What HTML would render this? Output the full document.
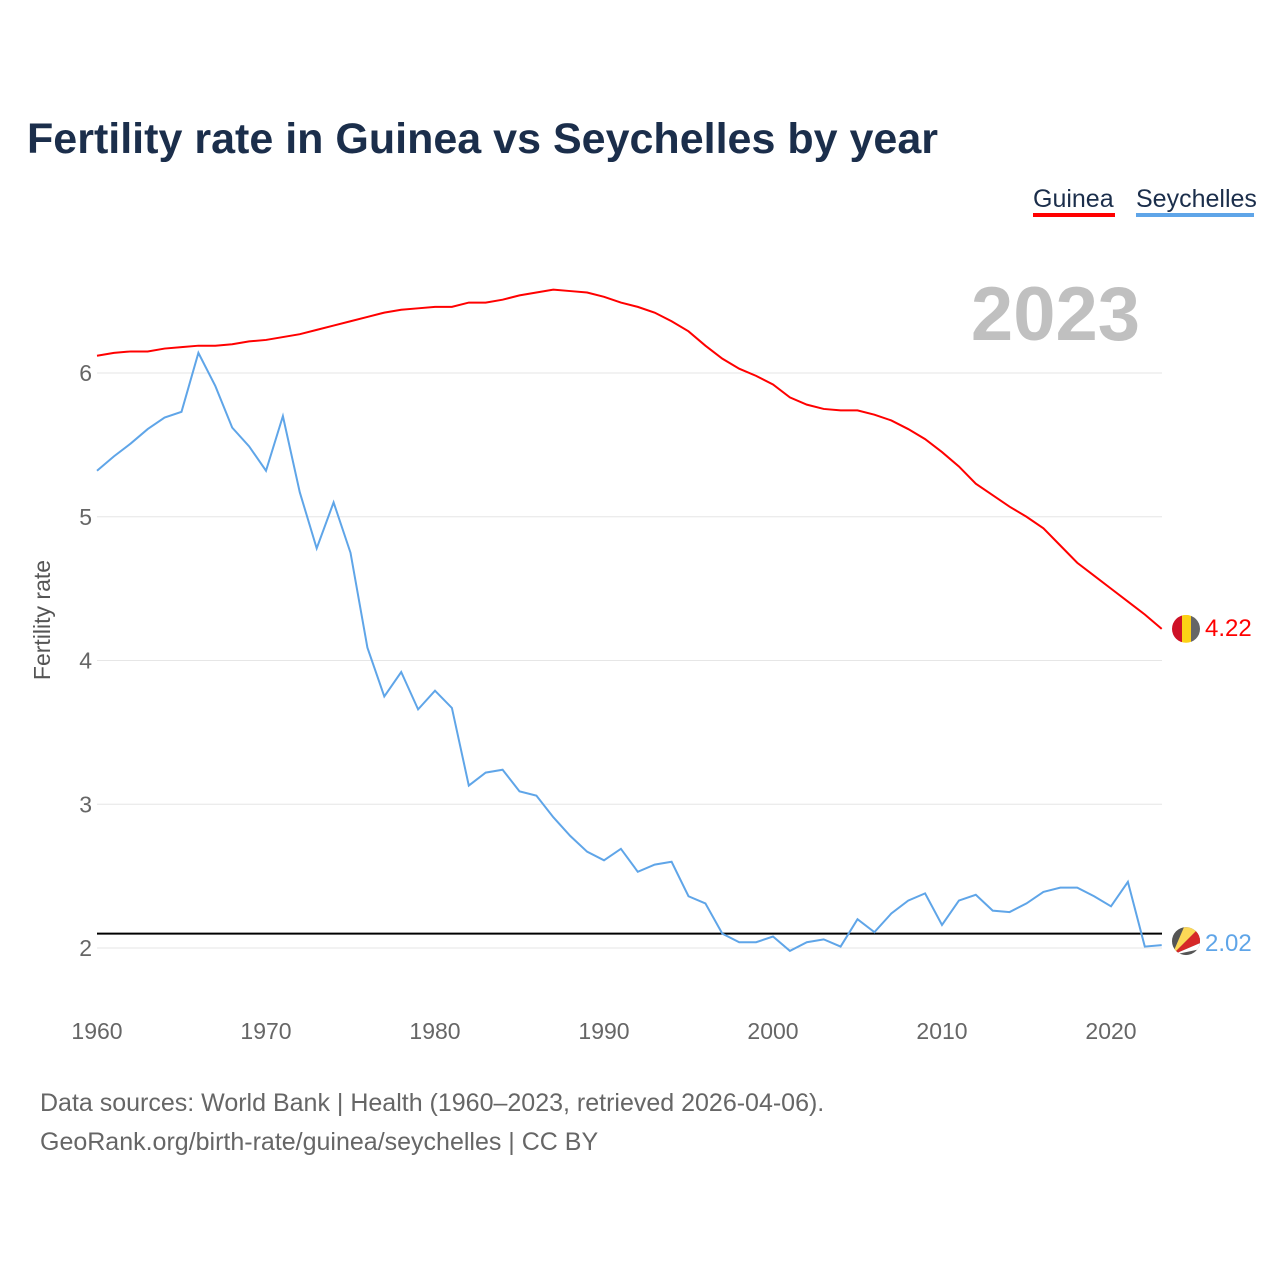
<!DOCTYPE html>
<html><head><meta charset="utf-8"><style>
body{margin:0;background:#fff;font-family:"Liberation Sans",sans-serif}
svg text{font-family:"Liberation Sans",sans-serif}
</style></head><body>
<svg width="1280" height="1280" viewBox="0 0 1280 1280">
<text x="27" y="153" font-size="43" font-weight="bold" fill="#1b2e4b" textLength="911" lengthAdjust="spacingAndGlyphs">Fertility rate in Guinea vs Seychelles by year</text>
<g>
<text x="1033" y="207" font-size="25" fill="#1b2e4b">Guinea</text>
<rect x="1033" y="213" width="82" height="4" fill="#ff0000"/>
<text x="1136" y="207" font-size="25" fill="#1b2e4b">Seychelles</text>
<rect x="1136" y="213" width="118" height="4" fill="#5fa5e8"/>
</g>
<text x="1140" y="340" font-size="76" font-weight="bold" fill="#c0c0c0" text-anchor="end">2023</text>
<text transform="translate(50,620) rotate(-90)" font-size="23" fill="#555" text-anchor="middle">Fertility rate</text>
<g id="grid"></g><g id="ticks"></g><g id="lines"></g>
<text x="40" y="1111" font-size="25" fill="#666">Data sources: World Bank | Health (1960–2023, retrieved 2026-04-06).</text>
<text x="40" y="1150" font-size="25" fill="#666">GeoRank.org/birth-rate/guinea/seychelles | CC BY</text>
</svg>
<script>
const years=[];for(let y=1960;y<=2023;y++)years.push(y);
const guinea=[6.12,6.14,6.15,6.15,6.17,6.18,6.19,6.19,6.20,6.22,6.23,6.25,6.27,6.30,6.33,6.36,6.39,6.42,6.44,6.45,6.46,6.46,6.49,6.49,6.51,6.54,6.56,6.58,6.57,6.56,6.53,6.49,6.46,6.42,6.36,6.29,6.19,6.10,6.03,5.98,5.92,5.83,5.78,5.75,5.74,5.74,5.71,5.67,5.61,5.54,5.45,5.35,5.23,5.15,5.07,5.00,4.92,4.80,4.68,4.59,4.50,4.41,4.32,4.22];
const seychelles=[5.32,5.42,5.51,5.61,5.69,5.73,6.14,5.91,5.62,5.49,5.32,5.70,5.17,4.78,5.10,4.75,4.09,3.75,3.92,3.66,3.79,3.67,3.13,3.22,3.24,3.09,3.06,2.91,2.78,2.67,2.61,2.69,2.53,2.58,2.60,2.36,2.31,2.10,2.04,2.04,2.08,1.98,2.04,2.06,2.01,2.20,2.11,2.24,2.33,2.38,2.16,2.33,2.37,2.26,2.25,2.31,2.39,2.42,2.42,2.36,2.29,2.46,2.01,2.02];
const yTicks=[2,3,4,5,6];
const xTicks=[1960,1970,1980,1990,2000,2010,2020];
const replacement=2.1;
const NS="http://www.w3.org/2000/svg";
const X=y=>97+(y-1960)*1014/60, Y=v=>948-(v-2)*143.75;
function mk(t,a,p){const e=document.createElementNS(NS,t);for(const k in a)e.setAttribute(k,a[k]);p.appendChild(e);return e;}
const grid=document.getElementById('grid'),ticks=document.getElementById('ticks'),lines=document.getElementById('lines');
yTicks.forEach(v=>{
const l=mk('line',{x1:97,x2:1162,y1:Y(v),y2:Y(v),stroke:'#e6e6e6','stroke-width':1},grid);


const t=mk('text',{x:92,y:Y(v)+8,'font-size':23,fill:'#666','text-anchor':'end'},ticks);t.textContent=v;


});
xTicks.forEach(v=>{
const t=mk('text',{x:X(v),y:1039,'font-size':23,fill:'#666','text-anchor':'middle'},ticks);t.textContent=v;


});
const rl=mk('line',{x1:97,x2:1162,y1:Y(replacement),y2:Y(replacement),stroke:'#000','stroke-width':2},lines);


function series(d,c,name){
const p=mk('polyline',{points:d.map((v,i)=>X(years[i])+','+Y(v)).join(' '),fill:'none',stroke:c,'stroke-width':2},lines);


}
series(guinea,'#ff0000','guinea-line');
series(seychelles,'#5fa5e8','seychelles-line');
const gl=guinea[guinea.length-1], sl=seychelles[seychelles.length-1];
const gx=1186;
const g1=mk('g',{},lines);


const gy=Y(gl);
mk('clipPath',{id:'cg'},g1);
mk('circle',{cx:gx,cy:gy,r:14},document.getElementById('cg'));
const gg=mk('g',{'clip-path':'url(#cg)'},g1);
mk('rect',{x:gx-14,y:gy-14,width:10,height:28,fill:'#ce1126'},gg);
mk('rect',{x:gx-4,y:gy-14,width:9,height:28,fill:'#fcd116'},gg);
mk('rect',{x:gx+5,y:gy-14,width:10,height:28,fill:'#666'},gg);
const gt=mk('text',{x:1205,y:gy+7,'font-size':24,fill:'#ff0000'},lines);gt.textContent=gl.toFixed(2);


const s1=mk('g',{},lines);


const sy=Y(sl)-4;
mk('clipPath',{id:'cs'},s1);
mk('circle',{cx:gx,cy:sy,r:14},document.getElementById('cs'));
const sg=mk('g',{'clip-path':'url(#cs)'},s1);
mk('rect',{x:gx-14,y:sy-14,width:28,height:28,fill:'#555'},sg);
mk('polygon',{points:`${gx-14},${sy+14} ${gx-2},${sy-14} ${gx+14},${sy-14}`,fill:'#fcd856'},sg);
mk('polygon',{points:`${gx-14},${sy+14} ${gx+14},${sy-14} ${gx+14},${sy+2}`,fill:'#d62828'},sg);
mk('polygon',{points:`${gx-14},${sy+14} ${gx+14},${sy+2} ${gx+14},${sy+8}`,fill:'#fff'},sg);
const st=mk('text',{x:1205,y:sy+10,'font-size':24,fill:'#5fa5e8'},lines);st.textContent=sl.toFixed(2);


</script>
</body></html>
